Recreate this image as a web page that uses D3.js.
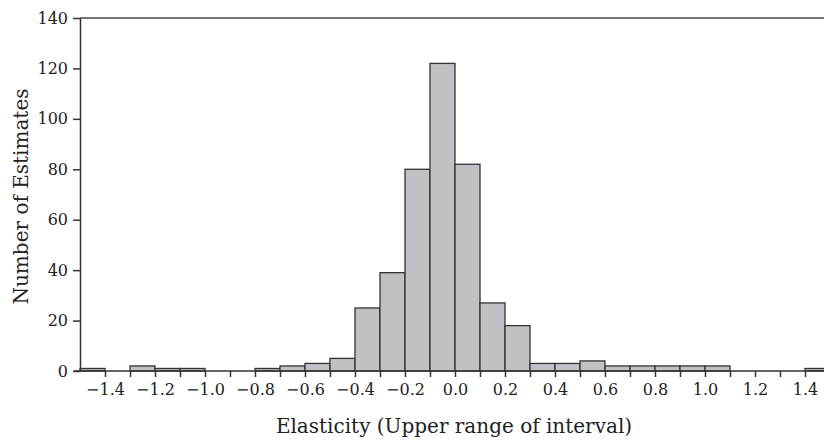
<!DOCTYPE html>
<html>
<head>
<meta charset="utf-8">
<script src="https://cdn.jsdelivr.net/npm/d3@7"></script>
<style>
  body { margin: 0; background: #fff; }
  svg text { font-family: 'DejaVu Serif', serif; fill: #222; }
</style>
</head>
<body>
<div id="chart"></div>
<script>
// bin lower edges (width 0.1) and counts per bin
const binStarts = [-1.5, -1.4, -1.3, -1.2, -1.1, -1.0, -0.9, -0.8, -0.7, -0.6, -0.5, -0.4, -0.3, -0.2, -0.1,
  0.0, 0.1, 0.2, 0.3, 0.4, 0.5, 0.6, 0.7, 0.8, 0.9, 1.0, 1.1, 1.2, 1.3, 1.4];
const counts = [1, 0, 2, 1, 1, 0, 0, 1, 2, 3, 5, 25, 39, 80, 122,
  82, 27, 18, 3, 3, 4, 2, 2, 2, 2, 2, 0, 0, 0, 1];
const xTickLabels = [-1.4, -1.2, -1.0, -0.8, -0.6, -0.4, -0.2, 0.0, 0.2, 0.4, 0.6, 0.8, 1.0, 1.2, 1.4];
const yTicks = [0, 20, 40, 60, 80, 100, 120, 140];
const binWidth = 0.1;

const margin = { top: 18, right: -6, bottom: 70, left: 80 };
const width = 824 - margin.left - margin.right;
const height = 441 - margin.top - margin.bottom;

const svg = d3
  .select('#chart')
  .append('svg')
  .attr('width', 824)
  .attr('height', 441)
  .append('g')
  .attr('transform', `translate(${margin.left},${margin.top})`);

const x = d3.scaleLinear().domain([-1.5, 1.5]).range([0, width]);
const y = d3.scaleLinear().domain([0, 140]).range([height, 0]);

// bars
svg
  .append('g')
  .selectAll('rect')
  .data(binStarts.map((s, i) => ({ start: s, count: counts[i] })).filter((d) => d.count > 0))
  .enter()
  .append('rect')
  .attr('x', (d) => x(d.start))
  .attr('y', (d) => y(d.count))
  .attr('width', (d) => x(d.start + binWidth) - x(d.start))
  .attr('height', (d) => y(0) - y(d.count))
  .attr('fill', '#c1c1c5')
  .attr('stroke', '#333')
  .attr('stroke-width', 1.3);

// top frame line
svg
  .append('line')
  .attr('x1', 0)
  .attr('x2', width)
  .attr('y1', y(140))
  .attr('y2', y(140))
  .attr('stroke', '#444')
  .attr('stroke-width', 1.5);

// x axis: ticks every 0.1, labels every 0.2
const xAxis = svg
  .append('g')
  .attr('transform', `translate(0,${height})`)
  .call(
    d3
      .axisBottom(x)
      .tickValues(binStarts.slice(1))
      .tickSize(6)
      .tickSizeOuter(0)
      .tickFormat((d) => {
        const hit = xTickLabels.find((t) => Math.abs(t - d) < 1e-9);
        return hit === undefined ? '' : d3.format('.1f')(hit).replace('-', '\u2212');
      })
  );
xAxis.select('.domain').attr('stroke', '#333').attr('stroke-width', 1.5).attr('d', `M-6,0H${width}`);
xAxis.selectAll('.tick line').attr('stroke', '#333').attr('stroke-width', 1.5);
xAxis.selectAll('.tick text').attr('dy', '0.95em').style('font-size', '16px');

// y axis
const yAxis = svg
  .append('g')
  .call(d3.axisLeft(y).tickValues(yTicks).tickSize(7).tickSizeOuter(0).tickPadding(5));
yAxis.select('.domain').attr('stroke', '#333').attr('stroke-width', 1.5);
yAxis.selectAll('.tick line').attr('stroke', '#333').attr('stroke-width', 1.5);
yAxis.selectAll('.tick text').style('font-size', '16px');

// axis titles
svg
  .append('text')
  .attr('x', x(0) - 1)
  .attr('y', height + 62)
  .attr('text-anchor', 'middle')
  .style('font-size', '20px')
  .text('Elasticity (Upper range of interval)');

svg
  .append('text')
  .attr('transform', `translate(${-margin.left + 28},${height / 2 + 2}) rotate(-90)`)
  .attr('text-anchor', 'middle')
  .style('font-size', '20px')
  .text('Number of Estimates');
</script>
</body>
</html>
